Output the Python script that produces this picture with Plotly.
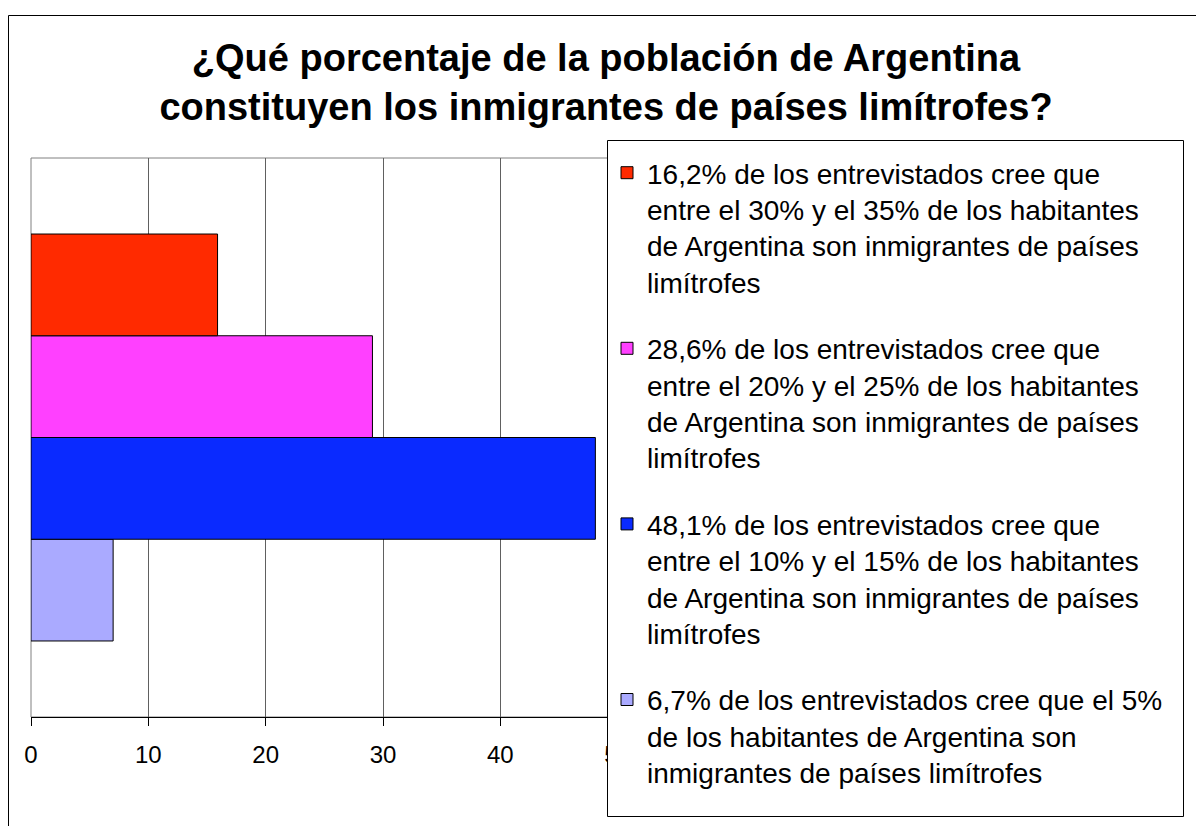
import plotly.graph_objects as go

# ---- data ----
labels = [
    "16,2% de los entrevistados cree que<br>entre el 30% y el 35% de los habitantes<br>de Argentina son inmigrantes de países<br>limítrofes",
    "28,6% de los entrevistados cree que<br>entre el 20% y el 25% de los habitantes<br>de Argentina son inmigrantes de países<br>limítrofes",
    "48,1% de los entrevistados cree que<br>entre el 10% y el 15% de los habitantes<br>de Argentina son inmigrantes de países<br>limítrofes",
    "6,7% de los entrevistados cree que el 5%<br>de los habitantes de Argentina son<br>inmigrantes de países limítrofes",
]
values = [15.9, 29.1, 48.1, 7.0]
colors = ["#FF2A00", "#FF40FF", "#0A2AFF", "#AAAAFF"]
category = [""]
x_ticks = [0, 10, 20, 30, 40, 50]
title_text = ("¿Qué porcentaje de la población de Argentina<br>"
              "constituyen los inmigrantes de países limítrofes?")

# page has an 8px body margin; figure sized to fit the window
OFF = 8
W, H = 1204 - OFF, 826 - OFF
# plot-area box in screenshot pixels
L, R, T, B = 31, 735, 158, 717
# legend frame box in screenshot pixels
LG_L, LG_R, LG_T, LG_B = 607, 1183, 140, 816


def fx(p):  # screenshot x pixel -> paper fraction
    return (p - OFF) / W


def fy(p):  # screenshot y pixel -> paper fraction
    return 1 - (p - OFF) / H


FONT = "Liberation Sans, Arial, sans-serif"

fig = go.Figure()
# plotly stacks horizontal grouped bars bottom-up, so add in reverse
n = len(labels)
for i in reversed(range(n)):
    fig.add_trace(go.Bar(
        x=[values[i]], y=category, orientation="h", name=labels[i],
        legendgroup=f"g{i}", legendrank=i,
        marker=dict(color=colors[i], line=dict(color="#000000", width=1)),
    ))

fig.update_layout(
    width=W, height=H,
    margin=dict(l=0, r=0, t=0, b=0, pad=0, autoexpand=False),
    paper_bgcolor="white", plot_bgcolor="white",
    barmode="group", bargap=0.272, bargroupgap=0,
    font=dict(family=FONT, color="#000000"),
    title=dict(
        text=title_text, x=(606 - OFF) / W, xref="container", xanchor="center",
        y=1 - (71 - OFF) / H, yref="container", yanchor="middle",
        font=dict(size=38, family=FONT, weight="bold", color="#000000"),
    ),
    xaxis=dict(
        domain=[fx(L), fx(R)],
        range=[0, 60], tickvals=x_ticks, showgrid=True, gridcolor="#606060",
        gridwidth=1, zeroline=False, showline=True, linecolor="#000000",
        linewidth=1, ticks="outside", ticklen=8, tickcolor="#000000",
        tickfont=dict(size=24), ticklabelstandoff=8, fixedrange=True,
    ),
    yaxis=dict(domain=[fy(B), fy(T)], showticklabels=False, showgrid=False,
               zeroline=False, showline=False, fixedrange=True),
    showlegend=True,
    legend=dict(
        x=fx(LG_L), y=fy(LG_T + 8), xanchor="left", yanchor="top",
        traceorder="grouped", tracegroupgap=27,
        bgcolor="rgba(0,0,0,0)", borderwidth=0,
        font=dict(size=28, family=FONT),
        valign="top", itemclick=False, itemdoubleclick=False,
    ),
    shapes=[
        # plot area frame (top edge visible)
        dict(type="rect", xref="x domain", yref="y domain", x0=0, x1=1, y0=0, y1=1,
             line=dict(color="#808080", width=1), layer="below"),
        # legend frame
        dict(type="rect", xref="paper", yref="paper",
             x0=fx(LG_L + 0.5), x1=fx(LG_R + 0.5), y0=fy(LG_B + 0.5), y1=fy(LG_T + 0.5),
             fillcolor="white", line=dict(color="#000000", width=1), layer="above"),
        # outer chart frame (top and left edges)
        dict(type="line", xref="paper", yref="paper",
             x0=fx(8.5), x1=fx(1210), y0=fy(15.5), y1=fy(15.5),
             line=dict(color="#000000", width=1)),
        dict(type="line", xref="paper", yref="paper",
             x0=fx(8.5), x1=fx(8.5), y0=fy(15.5), y1=fy(830),
             line=dict(color="#000000", width=1)),
    ],
)

fig.write_html("out.html")
